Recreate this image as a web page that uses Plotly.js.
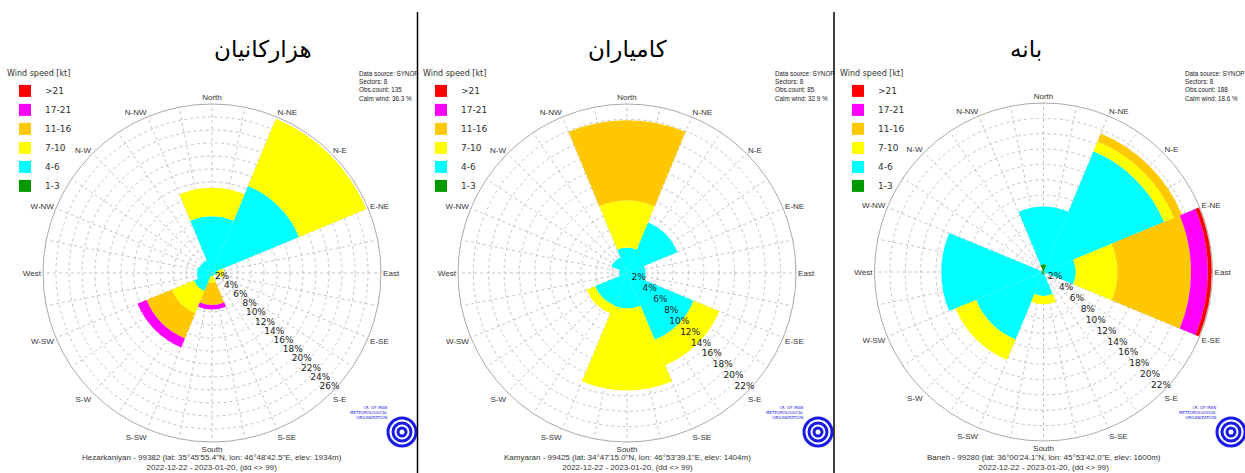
<!DOCTYPE html>
<html><head><meta charset="utf-8">
<script src="https://cdn.plot.ly/plotly-3.0.1.min.js"></script>
<style>html,body{margin:0;padding:0;background:#fff;overflow:hidden}#chart{width:1245px;height:473px}</style>
</head><body><div id="chart"></div>
<script>
// ---------- data ----------
const sectorAngles = [0, 45, 90, 135, 180, 225, 270, 315];
const speedBins = ['1-3', '4-6', '7-10', '11-16', '17-21', '>21'];
const binColors = ['#009900', '#00ffff', '#ffff00', '#ffc800', '#ff00ff', '#ff0000'];
const compassLabels = ['North','N-NE','N-E','E-NE','East','E-SE','S-E','S-SE','South','S-SW','S-W','W-SW','West','W-NW','N-W','N-NW'];

// Hezarkaniyan (% of observations per sector and speed class)
const hez_1_3   = [0, 0, 0, 0, 0, 0, 0, 0];
const hez_4_6   = [8.7, 14.5, 0.8, 0, 0.5, 3.0, 2.3, 2.1];
const hez_7_10  = [4.4, 11.2, 1.0, 0, 1.0, 3.7, 0, 0];
const hez_11_16 = [0, 0, 0, 0, 3.4, 4.2, 0, 0];
const hez_17_21 = [0, 0, 0, 0, 0.7, 1.5, 0, 0];
const hez_gt21  = [0, 0, 0, 0, 0, 0, 0, 0];

// Kamyaran
const kam_1_3   = [0, 0, 0, 0, 0, 0, 0, 0];
const kam_4_6   = [3.3, 7.1, 2.4, 9.4, 4.6, 4.5, 1.0, 2.2];
const kam_7_10  = [6.1, 0, 0, 3.6, 10.7, 1.2, 0, 0];
const kam_11_16 = [10.5, 0, 0, 0, 0, 0, 0, 0];
const kam_17_21 = [0, 0, 0, 0, 0, 0, 0, 0];
const kam_gt21  = [0, 0, 0, 0, 0, 0, 0, 0];

// Baneh
const ban_1_3   = [1.0, 0.2, 0, 0, 0.3, 0.3, 0.2, 0];
const ban_4_6   = [7.5, 16.8, 4.2, 0, 2.8, 9.2, 13.1, 0];
const ban_7_10  = [0, 1.4, 5.4, 0, 1.1, 2.9, 0, 0];
const ban_11_16 = [0, 1.1, 9.6, 0, 0, 0, 0, 0];
const ban_17_21 = [0, 0, 2.2, 0, 0, 0, 0, 0];
const ban_gt21  = [0, 0, 0.5, 0, 0, 0, 0, 0];

const titles = ['هزارکانیان', 'کامیاران', 'بانه'];
const obsCounts = [135, 85, 188];
const calmWind = [36.3, 32.9, 18.6];
const radialMax = [26, 22, 22];
const stationLines = [
  'Hezarkaniyan - 99382 (lat: 35°45\'55.4"N, lon: 46°48\'42.5"E, elev: 1934m)',
  'Kamyaran - 99425 (lat: 34°47\'15.0"N, lon: 46°53\'39.1"E, elev: 1404m)',
  'Baneh - 99280 (lat: 36°00\'24.1"N, lon: 45°53\'42.0"E, elev: 1600m)'
];
const periodLine = '2022-12-22 - 2023-01-20, (dd &lt;&gt; 99)';

const panelData = [
  [hez_1_3, hez_4_6, hez_7_10, hez_11_16, hez_17_21, hez_gt21],
  [kam_1_3, kam_4_6, kam_7_10, kam_11_16, kam_17_21, kam_gt21],
  [ban_1_3, ban_4_6, ban_7_10, ban_11_16, ban_17_21, ban_gt21]
];

// ---------- layout geometry ----------
const W = 1245, H = 473;
const px = x => x / W;
const py = y => 1 - y / H;
const panels = [
  {cx: 212, cy: 273, r: 169, left: 0, info: 357},
  {cx: 627, cy: 273, r: 169, left: 416, info: 773},
  {cx: 1043.5, cy: 272, r: 169, left: 833, info: 1183}
];
const LABEL_SHIFT = 11.5; // radial tick labels sit on the S-E ray, not beside it
function dom(cx, cy, r) {
  return {x: [px(cx - r), px(cx + r)], y: [1 - (cy + r) / H, 1 - (cy - r) / H]};
}
const gridAngles = [], gridText = [];
for (let i = 0; i < 32; i++) {
  gridAngles.push(i * 11.25);
  gridText.push(i % 2 === 0 ? compassLabels[i / 2] : '');
}

const FONT = 'DejaVu Sans, Liberation Sans, sans-serif';
const NARROW = 'Liberation Sans, Arial, sans-serif';
const traces = [];
const layout = {
  width: W, height: H,
  margin: {l: 0, r: 0, t: 0, b: 0},
  paper_bgcolor: '#fff',
  font: {family: FONT, color: '#333'},
  annotations: [], shapes: [],
  hovermode: false
};

panels.forEach((p, i) => {
  const sub = i === 0 ? 'polar' : 'polar' + (i + 1);
  const lab = 'polar' + (i + 4);
  const leg = i === 0 ? 'legend' : 'legend' + (i + 1);
  panelData[i].forEach((vals, b) => {
    traces.push({
      type: 'barpolar', r: vals, theta: sectorAngles, width: 45,
      name: speedBins[b], subplot: sub, legend: leg,
      marker: {color: binColors[b], line: {width: 0}}
    });
  });
  traces.push({type: 'barpolar', r: [0], theta: [0], subplot: lab, showlegend: false,
               marker: {color: 'rgba(0,0,0,0)'}});
  const rticks = [], rtext = [];
  for (let v = 2; v <= radialMax[i]; v += 2) { rticks.push(v); rtext.push(v + '%'); }
  layout[sub] = {
    domain: dom(p.cx, p.cy, p.r), bgcolor: '#fff', barmode: 'stack',
    angularaxis: {rotation: 90, direction: 'clockwise', tickmode: 'array',
      tickvals: gridAngles, ticktext: gridText, ticks: '',
      showline: true, linecolor: '#aaa', linewidth: 1,
      gridcolor: '#c4c4c4', griddash: 'dot', gridwidth: 1,
      tickfont: {size: 8, color: '#333', family: NARROW}, layer: 'below traces'},
    radialaxis: {range: [0, radialMax[i]], tickmode: 'array', tickvals: rticks,
      showticklabels: false, showline: false, ticks: '',
      gridcolor: '#c4c4c4', griddash: 'dot', gridwidth: 1, layer: 'below traces'}
  };
  layout[lab] = {
    domain: dom(p.cx + LABEL_SHIFT, p.cy - LABEL_SHIFT, p.r), bgcolor: 'rgba(0,0,0,0)',
    angularaxis: {visible: false, rotation: 90, direction: 'clockwise'},
    radialaxis: {range: [0, radialMax[i]], tickmode: 'array', tickvals: rticks, ticktext: rtext,
      angle: -45, tickangle: -45, showgrid: false, showline: false, ticks: '',
      tickfont: {size: 9, color: '#222', family: FONT}}
  };
  layout[leg] = {
    x: px(p.left + 5), y: py(66), xanchor: 'left', yanchor: 'top',
    traceorder: 'reversed', bgcolor: 'rgba(0,0,0,0)', borderwidth: 0,
    font: {size: 9, color: '#333', family: FONT},
    title: {text: 'Wind speed [kt]', font: {size: 8, color: '#333', family: FONT}},
    itemclick: false, itemdoubleclick: false
  };
  // title
  layout.annotations.push({text: titles[i], x: px(p.cx), y: py(34), xref: 'paper', yref: 'paper',
    showarrow: false, font: {size: 23, color: '#000', family: 'DejaVu Sans, Noto Sans, sans-serif'}});
  // info block
  layout.annotations.push({
    text: 'Data source: SYNOP<br>Sectors: 8<br>Obs.count: ' + obsCounts[i] + '<br>Calm wind: ' + calmWind[i].toFixed(1) + ' %',
    x: px(p.info), y: py(68), xref: 'paper', yref: 'paper',
    xanchor: 'left', yanchor: 'top', align: 'left', showarrow: false,
    font: {size: 6.3, color: '#222', family: NARROW}});
  // station caption (two lines)
  layout.annotations.push({text: stationLines[i] + '<br>' + periodLine, x: px(p.cx), y: 0,
    xref: 'paper', yref: 'paper', xanchor: 'center', yanchor: 'bottom', borderpad: 0,
    showarrow: false, font: {size: 8, color: '#333', family: NARROW}});
  // logo
  const lx = p.left + 402 - (i === 2 ? 4 : 0), ly = 432;
  layout.annotations.push({text: 'I.R. OF IRAN<br>METEOROLOGICAL<br>ORGANIZATION', x: px(lx - 12), y: py(422),
    xref: 'paper', yref: 'paper', xanchor: 'right', align: 'right', showarrow: false,
    font: {size: 4, color: '#1a1ae6', family: FONT}});
  [14, 9, 4].forEach(rr => {
    layout.shapes.push({type: 'circle', xref: 'paper', yref: 'paper',
      x0: px(lx - rr), x1: px(lx + rr), y0: py(ly + rr), y1: py(ly - rr),
      line: {color: '#1a1ae6', width: 3}});
  });
});
// separators between the three pictures
[417.5, 834].forEach(x => {
  layout.shapes.push({type: 'line', xref: 'paper', yref: 'paper', x0: px(x), x1: px(x), y0: 0, y1: py(12),
    line: {color: '#000', width: 1.5}});
});

Plotly.newPlot('chart', traces, layout, {staticPlot: true, displayModeBar: false});
</script></body></html>
